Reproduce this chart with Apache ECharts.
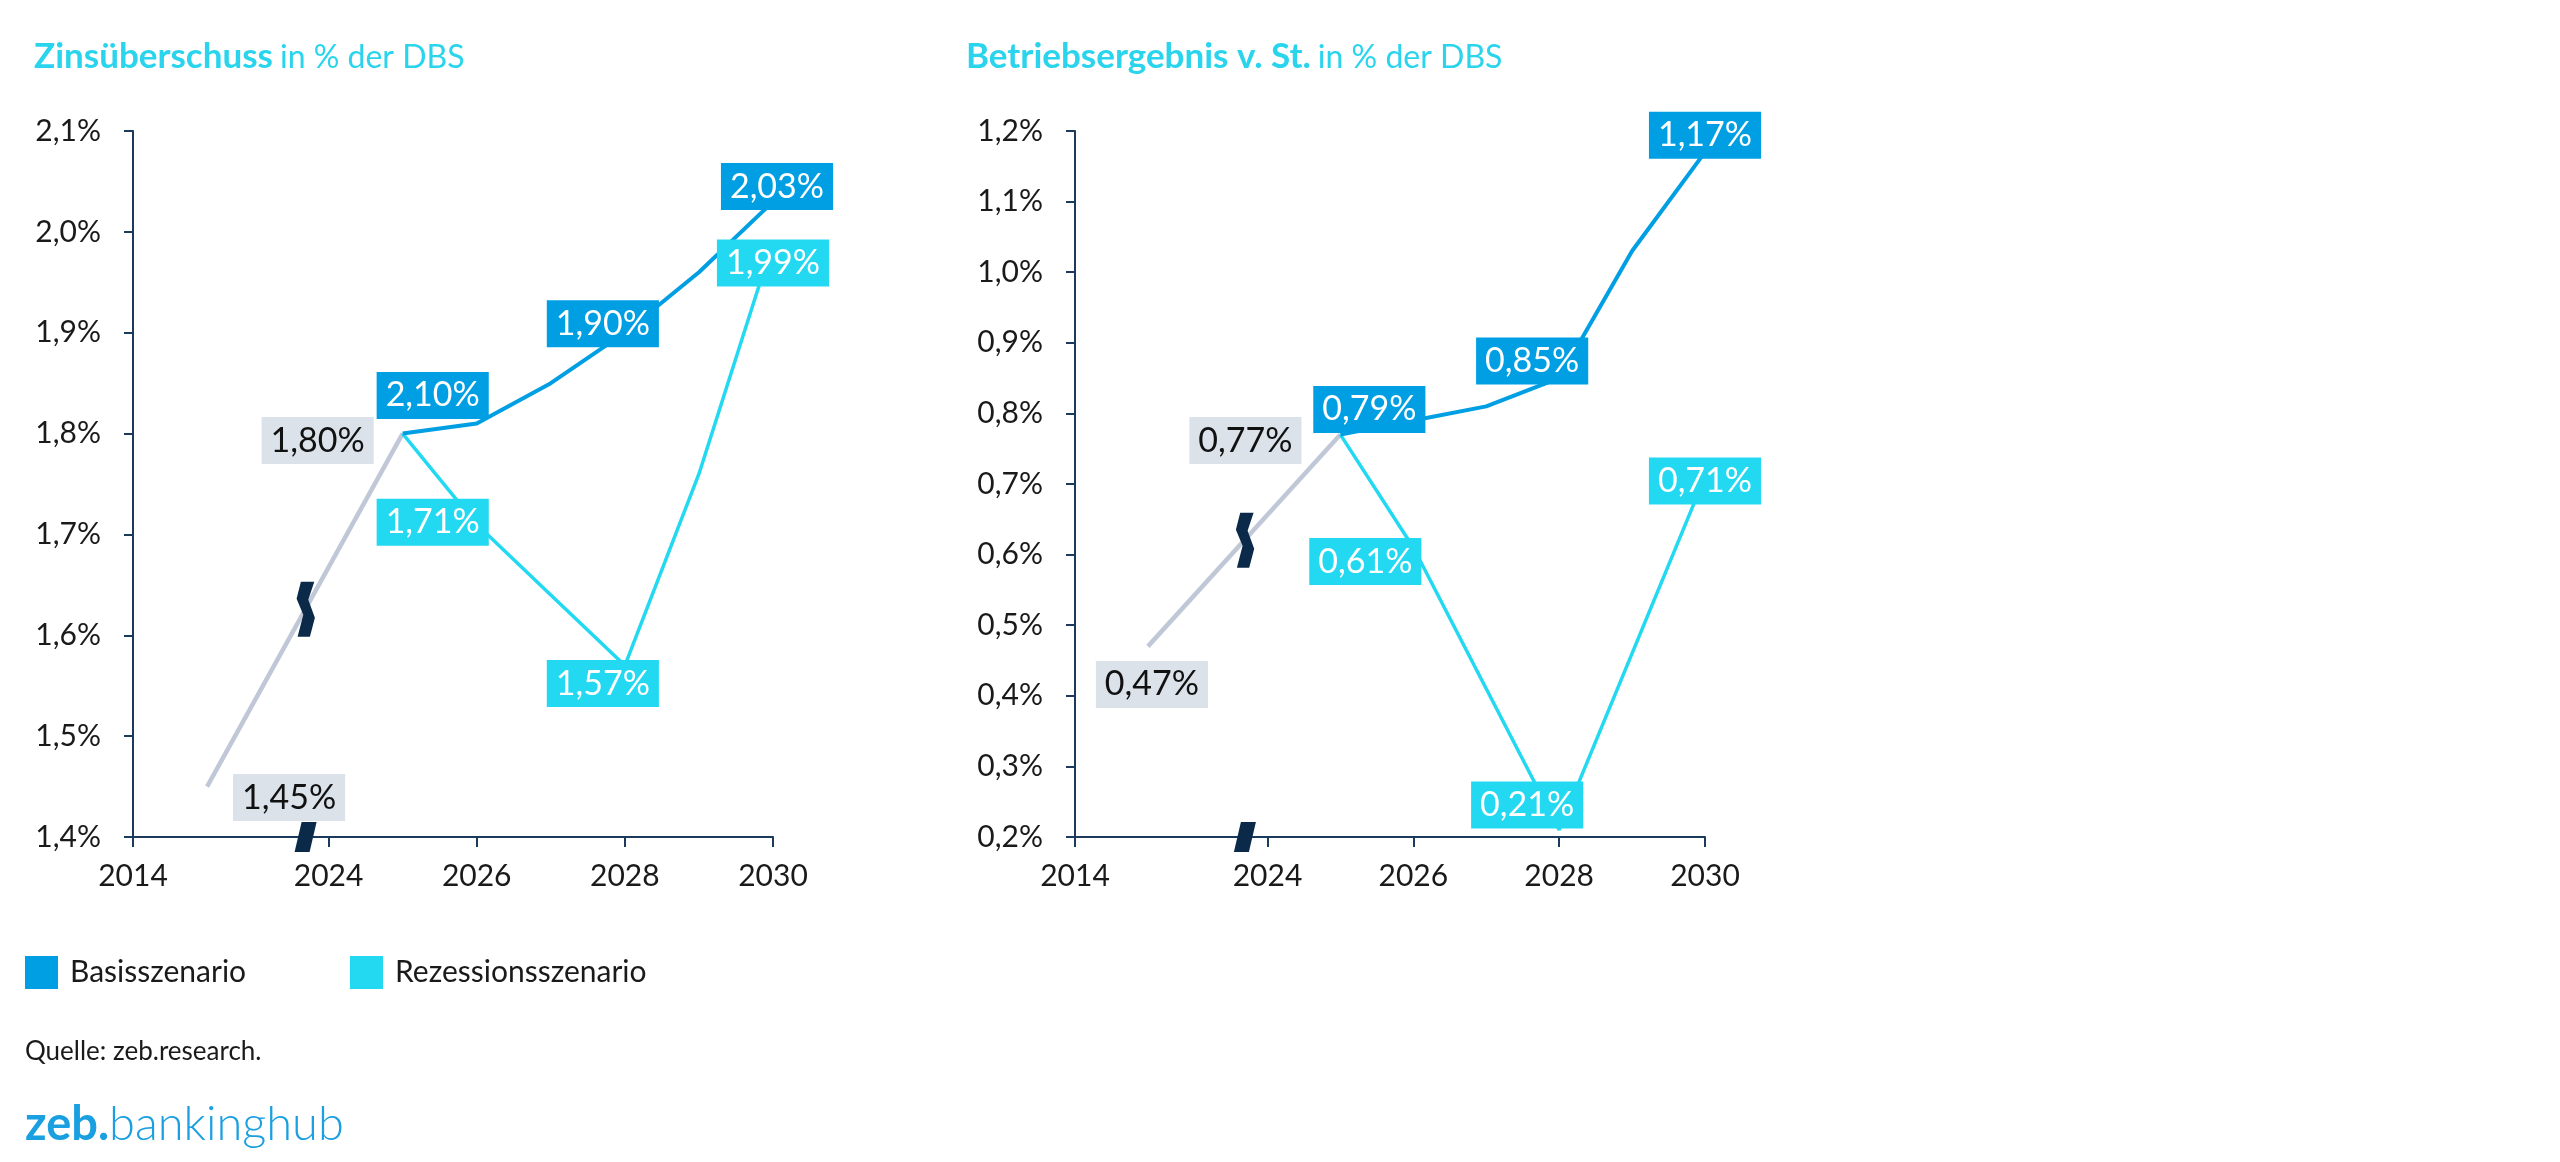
<!DOCTYPE html>
<html lang="de">
<head>
<meta charset="UTF-8">
<title>Zinsüberschuss und Betriebsergebnis</title>
<script src="https://cdn.jsdelivr.net/npm/echarts@6.0.0/dist/echarts.min.js"></script>
<style>
  html, body { margin: 0; padding: 0; background: #ffffff; }
  #main { width: 2560px; height: 1162px; }
</style>
</head>
<body>
<div id="main"></div>
<script type="text/javascript">
// --- Daten ---
var histYears = [2015, 2025];
var scenYears = [2025, 2026, 2027, 2028, 2029, 2030];
var xTickYears = [2014, 2024, 2026, 2028, 2030];
var yearBreak = [2016.33, 2023.69];

// Zinsüberschuss in % der DBS
var zinsHist = [1.45, 1.80];
var zinsBasis = [1.80, 1.81, 1.85, 1.90, 1.96, 2.03];
var zinsRezession = [1.80, 1.71, 1.64, 1.57, 1.76, 1.99];
var zinsHistLabels = ['1,45%', '1,80%'];
var zinsBasisLabels = [null, '2,10%', null, '1,90%', null, '2,03%'];
var zinsRezLabels = [null, '1,71%', null, '1,57%', null, '1,99%'];
var zinsRange = [1.4, 2.1];

// Betriebsergebnis v. St. in % der DBS
var beHist = [0.47, 0.77];
var beBasis = [0.77, 0.79, 0.81, 0.85, 1.03, 1.17];
var beRezession = [0.77, 0.61, 0.41, 0.21, 0.46, 0.71];
var beHistLabels = ['0,47%', '0,77%'];
var beBasisLabels = [null, '0,79%', null, '0,85%', null, '1,17%'];
var beRezLabels = [null, '0,61%', null, '0,21%', null, '0,71%'];
var beRange = [0.2, 1.2];

// --- Layout / Stil ---
var FONT = 'Lato, "Open Sans", sans-serif';
var BLUE = '#009fe3';
var CYAN = '#22d9f1';
var GREY_LINE = '#c0c8d8';
var GREY_BOX = '#dbe2ea';
var NAVY = '#1b3a5c';
var GLYPH = '#0b2a49';

// label box offsets (centre relative to point), per chart
var offsets = {
    zinsHist: [[82, 11], [-85, 7]],
    zinsBasis: [null, [-44, -28], null, [-22, -9], null, [4, -15]],
    zinsRez: [null, [-44, -2], null, [-22, 18], null, [0, 21]],
    beHist: [[4, 38], [-95, 6]],
    beBasis: [null, [-44, -11], null, [-27, -17], null, [0, -17]],
    beRez: [null, [-48, 14], null, [-32, -25], null, [0, 4]]
};

var lineGlyph = [[-4.7, -27], [8.7, -27], [2.7, -9], [9.3, 9], [4.3, 28], [-8, 28], [-2.3, 6], [-9, -10]];
var axisGlyph = [[-4, -15], [11, -15], [4, 15], [-11, 15]];

function pct(v) {
    return v.toFixed(1).replace('.', ',') + '%';
}

function pairs(years, values) {
    return years.map(function (y, i) { return [y, values[i]]; });
}

function lineSeries(name, gi, years, values, color, width, z) {
    return {
        name: name,
        type: 'line',
        xAxisIndex: gi,
        yAxisIndex: gi,
        data: pairs(years, values),
        showSymbol: false,
        symbol: 'none',
        lineStyle: { color: color, width: width },
        itemStyle: { color: color },
        silent: true,
        z: z
    };
}

function labelSeries(gi, years, values, labels, offs, bg, fg) {
    var data = [];
    years.forEach(function (y, i) {
        if (!labels[i]) return;
        data.push({
            value: [y, values[i]],
            label: { show: true, formatter: labels[i], offset: offs[i] }
        });
    });
    return {
        type: 'scatter',
        xAxisIndex: gi,
        yAxisIndex: gi,
        data: data,
        symbolSize: 1,
        itemStyle: { color: 'rgba(0,0,0,0)', opacity: 1 },
        silent: true,
        z: 10,
        label: {
            show: true,
            position: 'inside',
            fontFamily: FONT,
            fontSize: 34,
            lineHeight: 34,
            color: fg,
            opacity: 1,
            backgroundColor: bg,
            padding: [7, 9, 6, 9]
        }
    };
}

function xAxis(gi) {
    return {
        type: 'value',
        gridIndex: gi,
        min: 2014,
        max: 2030,
        breaks: [{ start: yearBreak[0], end: yearBreak[1], gap: 0 }],
        breakArea: {
            show: false,
            itemStyle: { color: 'rgba(0,0,0,0)', borderColor: 'rgba(0,0,0,0)', borderWidth: 0 }
        },
        axisLine: { show: true, lineStyle: { color: NAVY, width: 2 } },
        axisTick: { show: true, length: 10, customValues: xTickYears, lineStyle: { color: NAVY, width: 2 } },
        axisLabel: {
            customValues: xTickYears,
            formatter: function (v) { return String(Math.round(v)); },
            fontFamily: FONT, fontSize: 30, color: '#1a1a1a', margin: 24
        },
        splitLine: { show: false }
    };
}

function yAxis(gi, range) {
    return {
        type: 'value',
        gridIndex: gi,
        min: range[0],
        max: range[1],
        interval: 0.1,
        axisLine: { show: true, lineStyle: { color: NAVY, width: 2 } },
        axisTick: { show: true, length: 9, lineStyle: { color: NAVY, width: 2 } },
        axisLabel: {
            formatter: pct,
            fontFamily: FONT, fontSize: 30, color: '#1a1a1a', margin: 32
        },
        splitLine: { show: false }
    };
}

var titleRich = {
    b: { fontFamily: FONT, fontSize: 35, fontWeight: 'bold', color: '#2ad4ec' },
    n: { fontFamily: FONT, fontSize: 32, fontWeight: 'normal', color: '#2ad4ec', padding: [3, 0, 0, 7] }
};

var legendText = { fontFamily: FONT, fontSize: 30, color: '#1a1a1a', padding: [0, 0, 0, 7] };

var chart = echarts.init(document.getElementById('main'));

var option = {
    animation: false,
    backgroundColor: '#ffffff',
    title: [
        { text: '{b|Zinsüberschuss}{n|in % der DBS}', left: 29, top: 34, textStyle: { rich: titleRich } },
        { text: '{b|Betriebsergebnis v. St.}{n|in % der DBS}', left: 961, top: 34, textStyle: { rich: titleRich } },
        { text: 'Quelle: zeb.research.', left: 20, top: 1034, textStyle: { fontFamily: FONT, fontSize: 26, fontWeight: 'normal', color: '#1a1a1a' } },
        {
            text: '{z|zeb.}{h|bankinghub}', left: 20, top: 1096,
            textStyle: {
                rich: {
                    z: { fontFamily: FONT, fontSize: 47, fontWeight: 'bold', color: '#1a9fe0' },
                    h: { fontFamily: FONT, fontSize: 47, fontWeight: 300, color: '#1a9fe0' }
                }
            }
        }
    ],
    legend: [
        { data: ['Basisszenario'], left: 20, top: 951, icon: 'rect', itemWidth: 33, itemHeight: 33, selectedMode: false, textStyle: legendText },
        { data: ['Rezessionsszenario'], left: 345, top: 951, icon: 'rect', itemWidth: 33, itemHeight: 33, selectedMode: false, textStyle: legendText }
    ],
    grid: [
        { left: 133, top: 131, width: 640, height: 706 },
        { left: 1075, top: 131, width: 630, height: 706 }
    ],
    xAxis: [xAxis(0), xAxis(1)],
    yAxis: [yAxis(0, zinsRange), yAxis(1, beRange)],
    series: [
        lineSeries('Ist', 0, histYears, zinsHist, GREY_LINE, 4.5, 2),
        lineSeries('Rezessionsszenario', 0, scenYears, zinsRezession, CYAN, 3.5, 3),
        lineSeries('Basisszenario', 0, scenYears, zinsBasis, BLUE, 4, 4),
        labelSeries(0, histYears, zinsHist, zinsHistLabels, offsets.zinsHist, GREY_BOX, '#111111'),
        labelSeries(0, scenYears, zinsRezession, zinsRezLabels, offsets.zinsRez, CYAN, '#ffffff'),
        labelSeries(0, scenYears, zinsBasis, zinsBasisLabels, offsets.zinsBasis, BLUE, '#ffffff'),

        lineSeries('Ist', 1, histYears, beHist, GREY_LINE, 4.5, 2),
        lineSeries('Rezessionsszenario', 1, scenYears, beRezession, CYAN, 3.5, 3),
        lineSeries('Basisszenario', 1, scenYears, beBasis, BLUE, 4, 4),
        labelSeries(1, histYears, beHist, beHistLabels, offsets.beHist, GREY_BOX, '#111111'),
        labelSeries(1, scenYears, beRezession, beRezLabels, offsets.beRez, CYAN, '#ffffff'),
        labelSeries(1, scenYears, beBasis, beBasisLabels, offsets.beBasis, BLUE, '#ffffff')
    ]
};

chart.setOption(option);

// break marks on the history line and on the x axis
function placeBreakMarks() {
    var graphics = [];
    [[zinsHist, zinsRange], [beHist, beRange]].forEach(function (d, gi) {
        var p0 = chart.convertToPixel({ gridIndex: gi }, [histYears[0], d[0][0]]);
        var p1 = chart.convertToPixel({ gridIndex: gi }, [histYears[1], d[0][1]]);
        var bx = chart.convertToPixel({ xAxisIndex: gi }, yearBreak[0]);
        var by = p0[1] + (p1[1] - p0[1]) * (bx - p0[0]) / (p1[0] - p0[0]);
        var ay = chart.convertToPixel({ yAxisIndex: gi }, d[1][0]);
        graphics.push({ type: 'polygon', x: bx, y: by, z: 50, silent: true, shape: { points: lineGlyph }, style: { fill: GLYPH } });
        graphics.push({ type: 'polygon', x: bx, y: ay, z: 50, silent: true, shape: { points: axisGlyph }, style: { fill: GLYPH } });
    });
    chart.setOption({ graphic: graphics });
}
placeBreakMarks();
</script>
</body>
</html>
